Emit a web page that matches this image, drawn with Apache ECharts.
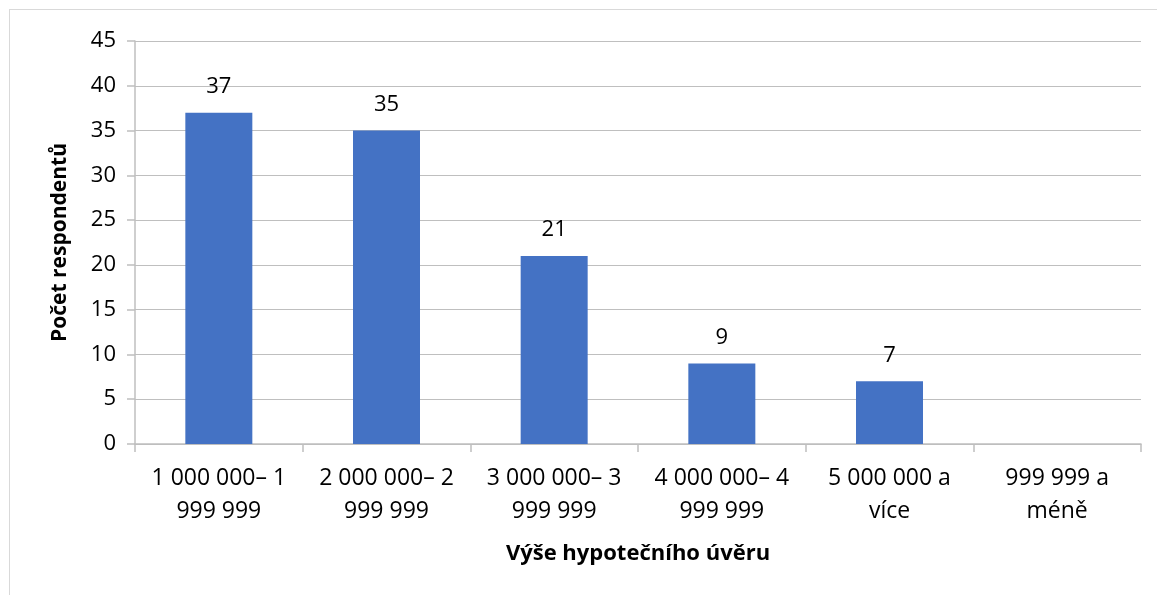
<!DOCTYPE html>
<html>
<head>
<meta charset="utf-8">
<script src="https://cdn.jsdelivr.net/npm/echarts@6/dist/echarts.min.js"></script>
<style>
  html, body { margin: 0; padding: 0; background: #fff; }
  #chart { width: 1157px; height: 595px; }
  .frame { position: absolute; left: 9px; top: 9px; width: 1160px; height: 600px; border: 1px solid #d9d9d9; pointer-events: none; }
</style>
</head>
<body>
<div id="chart"></div>
<div class="frame"></div>
<script>
  // kategorie a hodnoty
  const categories = [
    "1 000 000– 1\n999 999",
    "2 000 000– 2\n999 999",
    "3 000 000– 3\n999 999",
    "4 000 000– 4\n999 999",
    "5 000 000 a\nvíce",
    "999 999 a\nméně"
  ];
  const counts = [37, 35, 21, 9, 7, null];
  const yTicks = [0, 5, 10, 15, 20, 25, 30, 35, 40, 45];

  const font = "Open Sans, Noto Sans, sans-serif";
  const chart = echarts.init(document.getElementById("chart"));
  chart.setOption({
    animation: false,
    grid: { left: 135, right: 16, top: 41, bottom: 151, containLabel: false },
    xAxis: {
      type: "category",
      data: categories,
      name: "Výše hypotečního úvěru",
      nameLocation: "middle",
      nameGap: 99,
      nameTextStyle: { fontFamily: font, fontSize: 22, fontWeight: "bold", color: "#000" },
      axisLine: { lineStyle: { color: "#bfbfbf", width: 1.5 } },
      axisTick: { show: true, length: 8, lineStyle: { color: "#bfbfbf", width: 1.5 } },
      axisLabel: { fontFamily: font, fontSize: 23, color: "#000", lineHeight: 33, margin: 18, interval: 0 }
    },
    yAxis: {
      type: "value",
      min: yTicks[0],
      max: yTicks[yTicks.length - 1],
      interval: 5,
      name: "Počet respondentů",
      nameLocation: "middle",
      nameGap: 64,
      nameRotate: 90,
      nameTextStyle: { fontFamily: font, fontSize: 21, fontWeight: "bold", color: "#000" },
      axisLine: { show: true, lineStyle: { color: "#bfbfbf", width: 1.5 } },
      axisTick: { show: true, length: 8, lineStyle: { color: "#bfbfbf", width: 1.5 } },
      axisLabel: { fontFamily: font, fontSize: 22, color: "#000", margin: 19 },
      splitLine: { lineStyle: { color: "#bfbfbf", width: 1 } }
    },
    series: [{
      type: "bar",
      data: counts,
      barWidth: 67,
      itemStyle: { color: "#4472c4" },
      label: {
        show: true,
        position: "top",
        distance: 15,
        fontFamily: font,
        fontSize: 22,
        color: "#000"
      }
    }]
  });
</script>
</body>
</html>
